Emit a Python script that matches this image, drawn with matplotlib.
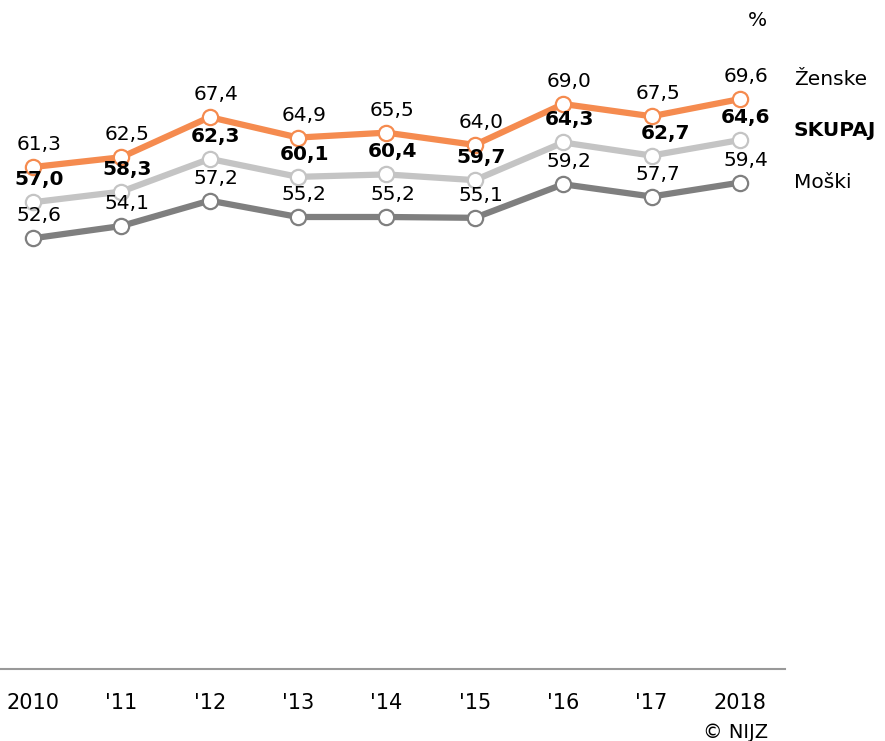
import matplotlib
matplotlib.use("Agg")
import matplotlib.pyplot as plt
import numpy as np

years = ["2010", "'11", "'12", "'13", "'14", "'15", "'16", "'17", "2018"]
zenske = [61.3, 62.5, 67.4, 64.9, 65.5, 64.0, 69.0, 67.5, 69.6]
skupaj = [57.0, 58.3, 62.3, 60.1, 60.4, 59.7, 64.3, 62.7, 64.6]
moski = [52.6, 54.1, 57.2, 55.2, 55.2, 55.1, 59.2, 57.7, 59.4]

c_z = "#f58b4f"
c_s = "#c4c4c4"
c_m = "#7f7f7f"

fig = plt.figure(figsize=(8.85, 7.41), dpi=100)
ax = fig.add_axes([0, 1 - 669 / 741, 785 / 885, 669 / 741])
x = np.arange(len(years))

for vals, col, bold, label, ly in [
    (moski, c_m, False, "Moški", 59.4),
    (skupaj, c_s, True, "SKUPAJ", 65.8),
    (zenske, c_z, False, "Ženske", 72.0),
]:
    ax.plot(x, vals, color=col, lw=4.5, marker="o", ms=11, mfc="white",
            mec=col, mew=1.6, solid_capstyle="round", zorder=3)
    for i, v in enumerate(vals):
        dx = 6
        if bold and i == 7:
            dx = 14
        ax.annotate(f"{v:.1f}".replace(".", ","), (x[i], v), xytext=(dx, 13),
                    textcoords="offset pixels", ha="center", va="bottom",
                    fontsize=14.5, fontweight="bold" if bold else "normal",
                    color="black", zorder=4)
    ax.text(8.52 + (793 - 785) / 88.4, ly, label, fontsize=14.5,
            fontweight="bold" if bold else "normal", va="center", ha="left",
            clip_on=False)

ax.set_xlim(-0.373, 8.51)
ax.set_ylim(0, 81.7)
for s in ["top", "right", "left"]:
    ax.spines[s].set_visible(False)
ax.spines["bottom"].set_color("#999999")
ax.spines["bottom"].set_linewidth(1.5)
ax.set_yticks([])
ax.set_xticks(x)
ax.set_xticklabels(years, fontsize=15)
ax.tick_params(axis="x", length=0, pad=17)

fig.text(757 / 885, 1 - 20 / 741, "%", fontsize=14.5, ha="center", va="center")
fig.text(768 / 885, 1 - 733 / 741, "© NIJZ", fontsize=14, ha="right", va="center")

fig.savefig("out.png", dpi=100)
